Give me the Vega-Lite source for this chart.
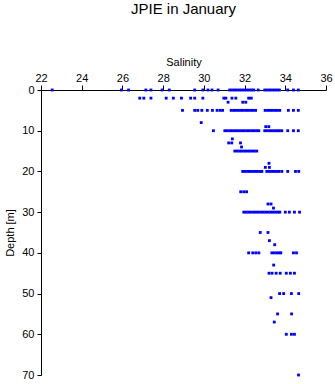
{
  "$schema": "https://vega.github.io/schema/vega-lite/v6.json",
  "width": 285,
  "height": 285,
  "autosize": {"type": "none"},
  "padding": {"left": 41, "top": 90, "right": 9, "bottom": 9},
  "title": {"text": "JPIE in January", "fontSize": 15, "fontWeight": "normal", "font": "Liberation Sans", "color": "black", "anchor": "middle", "offset": 39},
  "config": {"view": {"stroke": null}, "font": "Liberation Sans"},
  "datasets": {
    "ctd": [
      {"depth": 0, "salinity": 22.55}, {"depth": 0, "salinity": 25.95}, {"depth": 0, "salinity": 26.3}, {"depth": 0, "salinity": 27.15}, {"depth": 0, "salinity": 27.4}, {"depth": 0, "salinity": 27.95}, {"depth": 0, "salinity": 28.3}, {"depth": 0, "salinity": 29.55}, {"depth": 0, "salinity": 29.95}, {"depth": 0, "salinity": 30.2}, {"depth": 0, "salinity": 30.4}, {"depth": 0, "salinity": 30.7}, {"depth": 0, "salinity": 31.27}, {"depth": 0, "salinity": 31.39}, {"depth": 0, "salinity": 31.51}, {"depth": 0, "salinity": 31.63}, {"depth": 0, "salinity": 31.75}, {"depth": 0, "salinity": 31.87}, {"depth": 0, "salinity": 31.99}, {"depth": 0, "salinity": 32.11}, {"depth": 0, "salinity": 32.23}, {"depth": 0, "salinity": 32.35}, {"depth": 0, "salinity": 32.45}, {"depth": 0, "salinity": 32.67}, {"depth": 0, "salinity": 32.99}, {"depth": 0, "salinity": 33.11}, {"depth": 0, "salinity": 33.23}, {"depth": 0, "salinity": 33.35}, {"depth": 0, "salinity": 33.47}, {"depth": 0, "salinity": 33.59}, {"depth": 0, "salinity": 33.71}, {"depth": 0, "salinity": 34.12}, {"depth": 0, "salinity": 34.4}, {"depth": 0, "salinity": 34.64},
      {"depth": 2, "salinity": 26.85}, {"depth": 2, "salinity": 27.05}, {"depth": 2, "salinity": 27.4}, {"depth": 2, "salinity": 28.15}, {"depth": 2, "salinity": 28.5}, {"depth": 2, "salinity": 28.9}, {"depth": 2, "salinity": 29.35}, {"depth": 2, "salinity": 29.55}, {"depth": 2, "salinity": 29.95}, {"depth": 2, "salinity": 30.98}, {"depth": 2, "salinity": 31.08}, {"depth": 2, "salinity": 31.38}, {"depth": 2, "salinity": 31.57}, {"depth": 2, "salinity": 32.2}, {"depth": 2, "salinity": 32.33},
      {"depth": 3, "salinity": 31.19}, {"depth": 3, "salinity": 31.91}, {"depth": 3, "salinity": 32.06},
      {"depth": 5, "salinity": 28.95}, {"depth": 5, "salinity": 29.55}, {"depth": 5, "salinity": 29.7}, {"depth": 5, "salinity": 29.9}, {"depth": 5, "salinity": 30.17}, {"depth": 5, "salinity": 30.42}, {"depth": 5, "salinity": 30.65}, {"depth": 5, "salinity": 30.8}, {"depth": 5, "salinity": 30.92}, {"depth": 5, "salinity": 31.34}, {"depth": 5, "salinity": 31.46}, {"depth": 5, "salinity": 31.58}, {"depth": 5, "salinity": 31.7}, {"depth": 5, "salinity": 31.82}, {"depth": 5, "salinity": 31.94}, {"depth": 5, "salinity": 32.06}, {"depth": 5, "salinity": 32.18}, {"depth": 5, "salinity": 32.3}, {"depth": 5, "salinity": 32.42}, {"depth": 5, "salinity": 32.54}, {"depth": 5, "salinity": 33.01}, {"depth": 5, "salinity": 33.13}, {"depth": 5, "salinity": 33.25}, {"depth": 5, "salinity": 33.37}, {"depth": 5, "salinity": 33.49}, {"depth": 5, "salinity": 33.61}, {"depth": 5, "salinity": 33.73}, {"depth": 5, "salinity": 34.15}, {"depth": 5, "salinity": 34.4}, {"depth": 5, "salinity": 34.64},
      {"depth": 8, "salinity": 29.87},
      {"depth": 9, "salinity": 33.04}, {"depth": 9, "salinity": 33.19},
      {"depth": 10, "salinity": 30.47}, {"depth": 10, "salinity": 31.03}, {"depth": 10, "salinity": 31.15}, {"depth": 10, "salinity": 31.27}, {"depth": 10, "salinity": 31.39}, {"depth": 10, "salinity": 31.51}, {"depth": 10, "salinity": 31.63}, {"depth": 10, "salinity": 31.75}, {"depth": 10, "salinity": 31.87}, {"depth": 10, "salinity": 31.99}, {"depth": 10, "salinity": 32.11}, {"depth": 10, "salinity": 32.23}, {"depth": 10, "salinity": 32.35}, {"depth": 10, "salinity": 32.47}, {"depth": 10, "salinity": 32.59}, {"depth": 10, "salinity": 32.7}, {"depth": 10, "salinity": 32.99}, {"depth": 10, "salinity": 33.11}, {"depth": 10, "salinity": 33.23}, {"depth": 10, "salinity": 33.35}, {"depth": 10, "salinity": 33.47}, {"depth": 10, "salinity": 33.59}, {"depth": 10, "salinity": 33.71}, {"depth": 10, "salinity": 33.83}, {"depth": 10, "salinity": 34.12}, {"depth": 10, "salinity": 34.4}, {"depth": 10, "salinity": 34.64},
      {"depth": 12, "salinity": 31.4},
      {"depth": 13, "salinity": 31.22}, {"depth": 13, "salinity": 31.37}, {"depth": 13, "salinity": 31.8},
      {"depth": 14, "salinity": 31.85},
      {"depth": 15, "salinity": 31.52}, {"depth": 15, "salinity": 31.64}, {"depth": 15, "salinity": 31.76}, {"depth": 15, "salinity": 31.88}, {"depth": 15, "salinity": 32.0}, {"depth": 15, "salinity": 32.12}, {"depth": 15, "salinity": 32.24}, {"depth": 15, "salinity": 32.36}, {"depth": 15, "salinity": 32.48}, {"depth": 15, "salinity": 32.6},
      {"depth": 18, "salinity": 33.2},
      {"depth": 19, "salinity": 33.02}, {"depth": 19, "salinity": 33.22},
      {"depth": 20, "salinity": 31.91}, {"depth": 20, "salinity": 32.03}, {"depth": 20, "salinity": 32.15}, {"depth": 20, "salinity": 32.27}, {"depth": 20, "salinity": 32.39}, {"depth": 20, "salinity": 32.51}, {"depth": 20, "salinity": 32.63}, {"depth": 20, "salinity": 32.75}, {"depth": 20, "salinity": 32.85}, {"depth": 20, "salinity": 33.09}, {"depth": 20, "salinity": 33.21}, {"depth": 20, "salinity": 33.33}, {"depth": 20, "salinity": 33.45}, {"depth": 20, "salinity": 33.57}, {"depth": 20, "salinity": 33.69}, {"depth": 20, "salinity": 33.83}, {"depth": 20, "salinity": 34.12}, {"depth": 20, "salinity": 34.5}, {"depth": 20, "salinity": 34.66},
      {"depth": 25, "salinity": 31.81}, {"depth": 25, "salinity": 31.96}, {"depth": 25, "salinity": 32.1},
      {"depth": 28, "salinity": 33.15}, {"depth": 28, "salinity": 33.3},
      {"depth": 29, "salinity": 33.42},
      {"depth": 30, "salinity": 31.96}, {"depth": 30, "salinity": 32.08}, {"depth": 30, "salinity": 32.2}, {"depth": 30, "salinity": 32.32}, {"depth": 30, "salinity": 32.44}, {"depth": 30, "salinity": 32.56}, {"depth": 30, "salinity": 32.68}, {"depth": 30, "salinity": 32.8}, {"depth": 30, "salinity": 32.92}, {"depth": 30, "salinity": 33.04}, {"depth": 30, "salinity": 33.16}, {"depth": 30, "salinity": 33.28}, {"depth": 30, "salinity": 33.4}, {"depth": 30, "salinity": 33.52}, {"depth": 30, "salinity": 33.64}, {"depth": 30, "salinity": 33.73}, {"depth": 30, "salinity": 34.0}, {"depth": 30, "salinity": 34.2}, {"depth": 30, "salinity": 34.45}, {"depth": 30, "salinity": 34.7},
      {"depth": 35, "salinity": 32.77}, {"depth": 35, "salinity": 33.15},
      {"depth": 37, "salinity": 33.22},
      {"depth": 38, "salinity": 33.48},
      {"depth": 40, "salinity": 32.2}, {"depth": 40, "salinity": 32.4}, {"depth": 40, "salinity": 32.55}, {"depth": 40, "salinity": 32.7}, {"depth": 40, "salinity": 33.34}, {"depth": 40, "salinity": 33.46}, {"depth": 40, "salinity": 33.58}, {"depth": 40, "salinity": 33.7}, {"depth": 40, "salinity": 33.78}, {"depth": 40, "salinity": 34.4}, {"depth": 40, "salinity": 34.55},
      {"depth": 43, "salinity": 33.43},
      {"depth": 45, "salinity": 33.2}, {"depth": 45, "salinity": 33.35}, {"depth": 45, "salinity": 33.55}, {"depth": 45, "salinity": 33.75}, {"depth": 45, "salinity": 34.05}, {"depth": 45, "salinity": 34.25}, {"depth": 45, "salinity": 34.45},
      {"depth": 50, "salinity": 33.72}, {"depth": 50, "salinity": 33.92}, {"depth": 50, "salinity": 34.3}, {"depth": 50, "salinity": 34.66},
      {"depth": 51, "salinity": 33.3},
      {"depth": 55, "salinity": 33.62}, {"depth": 55, "salinity": 34.31},
      {"depth": 57, "salinity": 33.46},
      {"depth": 60, "salinity": 34.05}, {"depth": 60, "salinity": 34.3}, {"depth": 60, "salinity": 34.45},
      {"depth": 70, "salinity": 34.65}
    ]
  },
  "data": {"name": "ctd"},
  "mark": {"type": "square", "size": 8, "color": "#0000ff", "opacity": 1, "filled": true},
  "encoding": {
    "x": {
      "field": "salinity", "type": "quantitative",
      "scale": {"domain": [22, 36], "nice": false, "zero": false},
      "axis": {"orient": "top", "title": "Salinity", "values": [22, 24, 26, 28, 30, 32, 34, 36], "grid": false, "tickSize": 5, "labelFontSize": 11, "titleFontSize": 11, "titleFontWeight": "normal", "domainColor": "black", "tickColor": "black", "labelColor": "black", "titleColor": "black", "labelPadding": 2, "titlePadding": 5, "labelFlush": false, "domainWidth": 1, "tickWidth": 1}
    },
    "y": {
      "field": "depth", "type": "quantitative",
      "scale": {"domain": [0, 70], "nice": false, "zero": false, "reverse": true},
      "axis": {"title": "Depth [m]", "values": [0, 10, 20, 30, 40, 50, 60, 70], "grid": false, "tickSize": 4, "labelFontSize": 11, "titleFontSize": 11, "titleFontWeight": "normal", "domainColor": "black", "tickColor": "black", "labelColor": "black", "titleColor": "black", "labelPadding": 3, "titlePadding": 6, "labelFlush": false, "domainWidth": 1, "tickWidth": 1}
    }
  }
}
